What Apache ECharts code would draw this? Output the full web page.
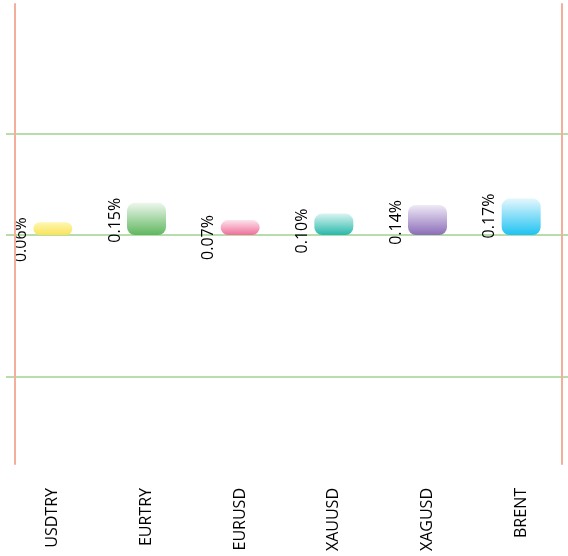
<!DOCTYPE html>
<html>
<head>
<meta charset="utf-8">
<script src="https://cdn.jsdelivr.net/npm/echarts@6/dist/echarts.min.js"></script>
<style>
html,body{margin:0;padding:0;background:#fff;}
#chart{width:568px;height:556px;}
</style>
</head>
<body>
<div id="chart"></div>
<script>
var categories = ['USDTRY', 'EURTRY', 'EURUSD', 'XAUUSD', 'XAGUSD', 'BRENT'];
var changes = [0.06, 0.15, 0.07, 0.10, 0.14, 0.17];
var guideLevels = [0.465, 0, -0.66];
var topColors = ['#fff7b3', '#eef7ec', '#fde3ec', '#d9f4f1', '#efeaf6', '#e4f7fd'];
var bottomColors = ['#f8e35a', '#5fb65f', '#ef6e99', '#27b8aa', '#8b6cb8', '#1fc2f1'];

var chart = echarts.init(document.getElementById('chart'));
var barData = changes.map(function (v, i) {
  return {
    value: v,
    itemStyle: {
      color: new echarts.graphic.LinearGradient(0, 0, 0, 1, [
        { offset: 0, color: topColors[i] },
        { offset: 1, color: bottomColors[i] }
      ])
    }
  };
});

chart.setOption({
  backgroundColor: '#ffffff',
  animation: false,
  grid: { left: 6, right: 0, top: 4, bottom: 92, containLabel: false },
  xAxis: {
    type: 'category',
    data: categories,
    axisLine: { show: false, onZero: false },
    axisTick: { show: false },
    splitLine: { show: false },
    axisLabel: {
      interval: 0,
      rotate: 90,
      margin: 24,
      fontSize: 16,
      fontFamily: 'Open Sans',
      color: '#000'
    }
  },
  yAxis: [
    {
      type: 'value', min: -1.065, max: 1.075, position: 'left', offset: -8.5, z: 10,
      axisLine: { show: true, lineStyle: { color: '#f3ae9c', width: 2 } },
      axisTick: { show: false }, axisLabel: { show: false }, splitLine: { show: false }
    },
    {
      type: 'value', min: -1.065, max: 1.075, position: 'right', offset: -6.5, z: 10,
      axisLine: { show: true, lineStyle: { color: '#f3ae9c', width: 2 } },
      axisTick: { show: false }, axisLabel: { show: false }, splitLine: { show: false }
    }
  ],
  series: [{
    type: 'bar',
    yAxisIndex: 0,
    z: 3,
    data: barData,
    barWidth: 39,
    itemStyle: { borderRadius: 8 },
    label: {
      show: true,
      position: [-4, -5],
      rotate: 90,
      align: 'right',
      verticalAlign: 'bottom',
      fontSize: 16,
      fontFamily: 'Open Sans',
      color: '#000',
      formatter: function (p) { return p.value.toFixed(2) + '%'; }
    },
    markLine: {
      silent: true,
      z: 1,
      symbol: ['none', 'none'],
      label: { show: false },
      lineStyle: { color: '#b8dcaa', width: 2, type: 'solid' },
      data: guideLevels.map(function (v) { return { yAxis: v }; })
    }
  }]
});
</script>
</body>
</html>
